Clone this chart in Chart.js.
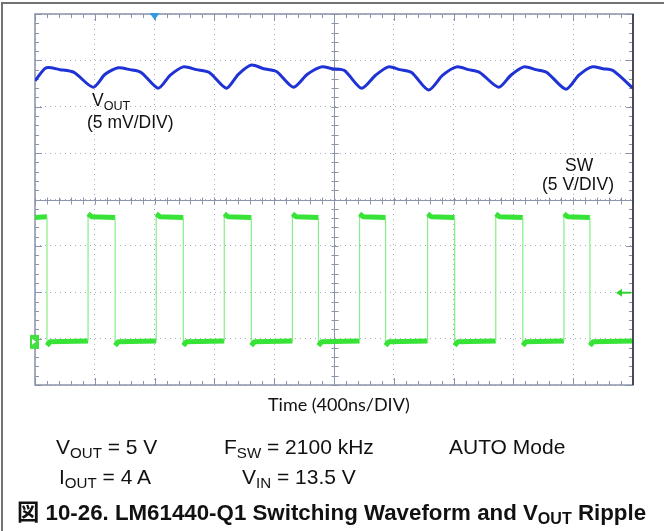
<!DOCTYPE html>
<html>
<head>
<meta charset="utf-8">
<script src="https://cdn.jsdelivr.net/npm/chart.js@4.4.1/dist/chart.umd.min.js"></script>
<style>
body { margin: 0; background: #fff; }
#wrap { position: relative; width: 664px; height: 531px; overflow: hidden; font-family: "Liberation Sans", Arial, sans-serif; color: #111; }
#frame { position: absolute; left: 1px; top: 2px; right: -2px; bottom: -2px; border-top: 2px solid #727272; border-left: 2px solid #727272; }
#scope { position: absolute; left: 0; top: 0; }
.t { position: absolute; white-space: nowrap; line-height: 1; }
.s { font-size: 72%; position: relative; top: 0.28em; }
.lbl { font-size: 17.5px; }
.row { font-size: 21px; }
.axis { font-family: Lato, "Open Sans", sans-serif; font-size: 18px; }
.cap { font-size: 22.3px; font-weight: bold; }
.cap .cjk { font-family: "Noto Sans CJK JP", sans-serif; }
</style>
</head>
<body>
<div id="wrap">
  <div id="frame"></div>
  <canvas id="scope" width="664" height="531"></canvas>
  <div class="t lbl" style="left:92px; top:92px;">V<span class="s">OUT</span></div>
  <div class="t lbl" style="left:87px; top:114px;">(5 mV/DIV)</div>
  <div class="t lbl" style="left:565px; top:157px;">SW</div>
  <div class="t lbl" style="left:542px; top:176px;">(5 V/DIV)</div>
  <div class="t axis" style="left:268px; top:395px;">Time (400ns/DIV)</div>
  <div class="t row" style="left:56px; top:436px;">V<span class="s">OUT</span> = 5 V</div>
  <div class="t row" style="left:224px; top:436px;">F<span class="s">SW</span> = 2100 kHz</div>
  <div class="t row" style="left:449px; top:436px;">AUTO Mode</div>
  <div class="t row" style="left:59px; top:466px;">I<span class="s">OUT</span> = 4 A</div>
  <div class="t row" style="left:242px; top:466px;">V<span class="s">IN</span> = 13.5 V</div>
  <div class="t cap" style="left:17px; top:499px;"><span class="cjk">図</span> 10-26. LM61440-Q1 Switching Waveform and V<span class="s">OUT</span> Ripple</div>
</div>
<script>
// scope settings
const timePerDivNs = 400;
const voutMvPerDiv = 5;
const swVoltsPerDiv = 5;
const swGroundDiv = -3.07;
const triggerTimeNs = 800;
const triggerLevelV = 5.3;

// VOUT ripple (mV, relative to screen centre)
const voutTimeNs = [0, 74, 168, 261, 389, 469, 556, 635, 710, 824, 905, 992, 1080, 1166, 1280, 1360, 1447, 1530, 1615, 1729, 1822, 1916, 1990, 2070, 2184, 2278, 2365, 2440, 2519, 2633, 2727, 2821, 2900, 2975, 3102, 3183, 3270, 3350, 3424, 3551, 3638, 3725, 3800, 3866, 4000];
const voutMv = [12.8, 14.2, 14.0, 13.7, 12.1, 13.5, 14.2, 14.0, 13.7, 12.0, 13.4, 14.3, 14.0, 13.7, 12.0, 13.5, 14.5, 14.1, 13.8, 12.1, 13.5, 14.3, 14.1, 13.9, 12.0, 13.4, 14.3, 14.0, 13.7, 11.8, 13.4, 14.3, 14.0, 13.7, 12.1, 13.4, 14.3, 14.0, 13.7, 11.9, 13.4, 14.3, 14.1, 13.9, 12.0];

// SW node (V)
const swTimeNs = [0, 80, 80, 100, 355, 355, 380, 536, 536, 556, 811, 811, 836, 992, 992, 1012, 1266, 1266, 1291, 1447, 1447, 1467, 1722, 1722, 1747, 1896, 1896, 1916, 2171, 2171, 2196, 2345, 2345, 2365, 2626, 2626, 2651, 2807, 2807, 2827, 3082, 3082, 3107, 3263, 3263, 3283, 3538, 3538, 3563, 3712, 3712, 3732, 4000];
const swVolts = [13.4, 13.5, -0.4, 0.0, 0.1, 13.8, 13.5, 13.4, -0.4, 0.0, 0.1, 13.8, 13.5, 13.4, -0.4, 0.0, 0.1, 13.8, 13.5, 13.4, -0.4, 0.0, 0.1, 13.8, 13.5, 13.4, -0.4, 0.0, 0.1, 13.8, 13.5, 13.4, -0.4, 0.0, 0.1, 13.8, 13.5, 13.4, -0.4, 0.0, 0.1, 13.8, 13.5, 13.4, -0.4, 0.0, 0.1, 13.8, 13.5, 13.4, -0.4, 0.0, 0.1];

const voutPoints = voutTimeNs.map((t, i) => ({ x: t, y: voutMv[i] / voutMvPerDiv }));
const swPoints = swTimeNs.map((t, i) => ({ x: t, y: swGroundDiv + swVolts[i] / swVoltsPerDiv }));

const crisp = v => Math.round(v) + 0.5;

const scopeDecor = {
	id: 'scopeDecor',
	beforeDatasetsDraw(chart) {
		const { ctx, chartArea: a } = chart;
		const x = chart.scales.x, y = chart.scales.y;
		const seg = (x1, y1, x2, y2) => { ctx.beginPath(); ctx.moveTo(x1, y1); ctx.lineTo(x2, y2); ctx.stroke(); };
		const cx = crisp(x.getPixelForValue(5 * timePerDivNs));
		const cy = crisp(y.getPixelForValue(0));
		ctx.save();
		ctx.strokeStyle = '#8a93aa';
		ctx.lineWidth = 1;
		seg(a.left, cy, a.right, cy);
		seg(cx, a.top, cx, a.bottom);
		for (let i = 0; i <= 50; i++) {
			const px = crisp(x.getPixelForValue(i * timePerDivNs / 5));
			const len = i % 5 === 0 ? 7 : 4;
			seg(px, a.top, px, a.top + len);
			seg(px, a.bottom, px, a.bottom - len);
			seg(px, cy - 3, px, cy + 4);
		}
		for (let i = 0; i <= 40; i++) {
			const py = crisp(y.getPixelForValue(-4 + i / 5));
			const len = i % 5 === 0 ? 7 : 4;
			seg(a.left, py, a.left + len, py);
			seg(a.right, py, a.right - len, py);
			seg(cx - 3, py, cx + 4, py);
		}
		ctx.lineWidth = 1.5;
		ctx.strokeRect(a.left, a.top, a.right - a.left, a.bottom - a.top);
		ctx.restore();
	},
	afterDatasetsDraw(chart) {
		const { ctx, chartArea: a } = chart;
		const x = chart.scales.x, y = chart.scales.y;
		ctx.save();
		// dark right edge
		ctx.strokeStyle = '#2b2b33';
		ctx.lineWidth = 1.5;
		ctx.beginPath(); ctx.moveTo(a.right, a.top); ctx.lineTo(a.right, a.bottom); ctx.stroke();
		// trigger time marker
		const tx = x.getPixelForValue(triggerTimeNs);
		ctx.fillStyle = '#2f9be3';
		ctx.beginPath(); ctx.moveTo(tx - 5, a.top - 1); ctx.lineTo(tx + 5, a.top - 1); ctx.lineTo(tx, a.top + 6); ctx.closePath(); ctx.fill();
		// SW ground marker
		const gy = y.getPixelForValue(swGroundDiv);
		ctx.fillStyle = '#3fe03f';
		ctx.fillRect(a.left - 5, gy - 7, 9, 14);
		ctx.fillStyle = '#ffffff';
		ctx.beginPath(); ctx.moveTo(a.left - 3, gy - 3); ctx.lineTo(a.left + 1, gy); ctx.lineTo(a.left - 3, gy + 3); ctx.closePath(); ctx.fill();
		// trigger level arrow
		const ly = y.getPixelForValue(swGroundDiv + triggerLevelV / swVoltsPerDiv);
		ctx.strokeStyle = '#2fd22f';
		ctx.fillStyle = '#2fd22f';
		ctx.lineWidth = 2;
		ctx.beginPath(); ctx.moveTo(a.right - 13, ly); ctx.lineTo(a.right - 2, ly); ctx.stroke();
		ctx.beginPath(); ctx.moveTo(a.right - 17, ly); ctx.lineTo(a.right - 11, ly - 4); ctx.lineTo(a.right - 11, ly + 4); ctx.closePath(); ctx.fill();
		ctx.restore();
	}
};

new Chart(document.getElementById('scope'), {
	type: 'line',
	data: {
		datasets: [
			{
				label: 'SW',
				data: swPoints,
				borderColor: '#36e336',
				borderWidth: 5,
				pointRadius: 0,
				tension: 0,
				borderJoinStyle: 'bevel',
				segment: {
					borderWidth: ctx => ctx.p0.parsed.x === ctx.p1.parsed.x ? 1.2 : 5,
					borderColor: ctx => ctx.p0.parsed.x === ctx.p1.parsed.x ? '#86ee86' : '#36e336'
				}
			},
			{
				label: 'VOUT',
				data: voutPoints,
				borderColor: '#1e32d6',
				borderWidth: 3,
				pointRadius: 0,
				tension: 0.25
			}
		]
	},
	options: {
		responsive: false,
		animation: false,
		events: [],
		layout: { padding: { left: 35, top: 14, right: 31, bottom: 146 } },
		plugins: { legend: { display: false }, tooltip: { enabled: false } },
		scales: {
			x: {
				type: 'linear',
				min: 0,
				max: 10 * timePerDivNs,
				ticks: { display: false, stepSize: timePerDivNs },
				grid: { color: '#a4acbf', lineWidth: 1, drawTicks: false },
				border: { display: false, dash: [1, 4] }
			},
			y: {
				min: -4,
				max: 4,
				ticks: { display: false, stepSize: 1 },
				grid: { color: '#a4acbf', lineWidth: 1, drawTicks: false },
				border: { display: false, dash: [1, 4] }
			}
		}
	},
	plugins: [scopeDecor]
});
</script>
</body>
</html>
